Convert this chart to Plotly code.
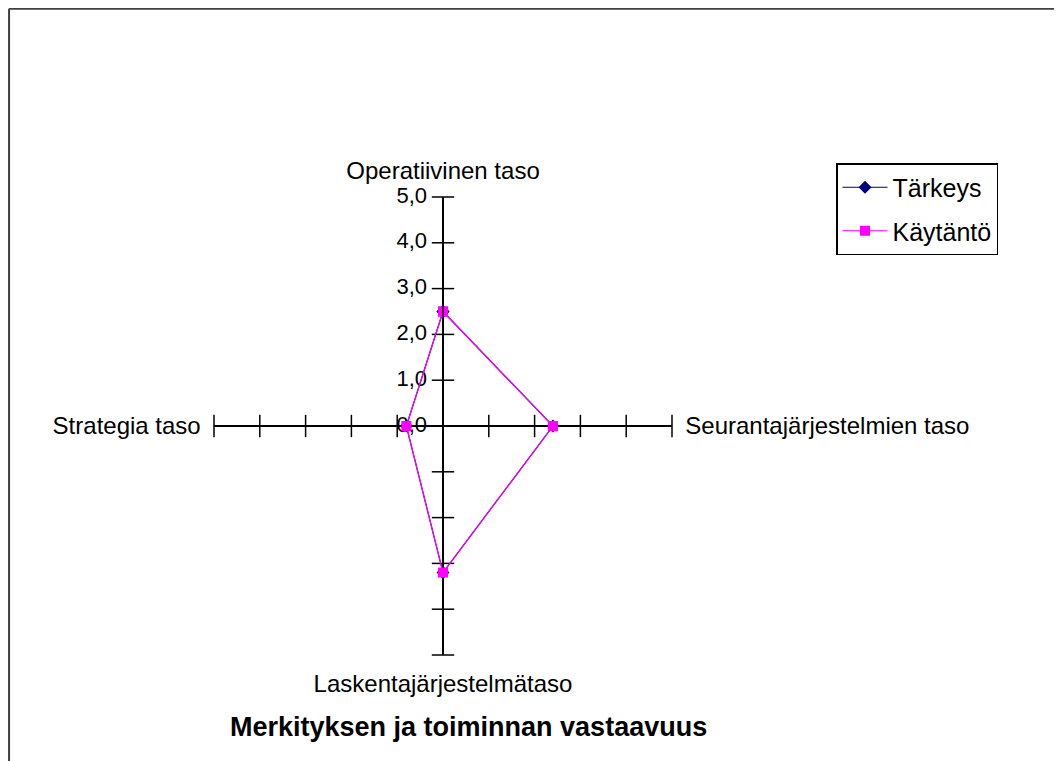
import plotly.graph_objects as go

categories = ["Operatiivinen taso", "Seurantajärjestelmien taso", "Laskentajärjestelmätaso", "Strategia taso"]
tarkeys = [2.5, 2.4, 3.2, 0.8]
kaytanto = [2.5, 2.4, 3.2, 0.8]
radial_ticks = [0, 1, 2, 3, 4, 5]
series_names = ["Tärkeys", "Käytäntö"]
title_text = "Merkityksen ja toiminnan vastaavuus"

FONT = "Liberation Sans, Arial, sans-serif"

def closed(vals):
    return list(vals) + [vals[0]]

# page body has 8px margin: work in figure coordinates
OFF = 8
W, H = 1062 - OFF, 761 - OFF
cx, cy, rad = 443 - OFF, 426 - OFF, 229

fig = go.Figure()

# tick marks crossing each spoke
tick_r, tick_t, tick_sym = [], [], []
for i, cat in enumerate(categories):
    for r in radial_ticks[1:]:
        tick_r.append(r)
        tick_t.append(cat)
        tick_sym.append("line-ew" if i % 2 == 0 else "line-ns")
fig.add_trace(go.Scatterpolar(
    r=tick_r, theta=tick_t, mode="markers",
    marker=dict(symbol=tick_sym, size=16, line=dict(color="black", width=1.5)),
    showlegend=False, hoverinfo="skip"))

# radial value labels along the top spoke
fig.add_trace(go.Scatterpolar(
    r=radial_ticks, theta=[categories[0]] * len(radial_ticks),
    mode="markers+text",
    text=[f"{v:.1f}".replace(".", ",") for v in radial_ticks],
    textposition="middle left",
    textfont=dict(family=FONT, size=22, color="black"),
    marker=dict(size=24, color="rgba(0,0,0,0)"),
    showlegend=False, hoverinfo="skip"))

fig.add_trace(go.Scatterpolar(
    r=closed(tarkeys), theta=closed(categories), mode="lines+markers",
    name=series_names[0], legendgroup="a",
    line=dict(color="#000080", width=1.2),
    marker=dict(symbol="diamond", size=10, color="#000080")))

fig.add_trace(go.Scatterpolar(
    r=closed(kaytanto), theta=closed(categories), mode="lines+markers",
    name=series_names[1], legendgroup="b",
    line=dict(color="#FF00FF", width=1.2),
    marker=dict(symbol="square", size=10, color="#FF00FF")))

fig.update_layout(
    width=W, height=H,
    margin=dict(l=0, r=0, t=0, b=0),
    paper_bgcolor="white",
    font=dict(family=FONT, size=24, color="black"),
    polar=dict(
        domain=dict(x=[(cx - rad) / W, (cx + rad) / W],
                    y=[(H - cy - rad) / H, (H - cy + rad) / H]),
        bgcolor="white",
        radialaxis=dict(
            range=[0, 5], tickvals=radial_ticks, showticklabels=False,
            angle=90, showgrid=False, showline=True,
            linecolor="black", linewidth=1.5, ticks="",
        ),
        angularaxis=dict(
            rotation=90, direction="clockwise", showline=False,
            showgrid=True, gridcolor="black", gridwidth=1.5,
            ticks="outside", ticklen=8, tickcolor="rgba(0,0,0,0)",
            tickfont=dict(family=FONT, size=24, color="black"),
        ),
    ),
    legend=dict(
        x=(836 - OFF) / W, y=1 - (163 - OFF) / H, xanchor="left", yanchor="top",
        bgcolor="white", bordercolor="black", borderwidth=1.5,
        font=dict(family=FONT, size=25, color="black"),
        tracegroupgap=8, itemwidth=45,
    ),
    annotations=[dict(
        text=f"<b>{title_text}</b>",
        x=(468 - OFF) / W, y=1 - (727 - OFF) / H, xref="paper", yref="paper",
        xanchor="center", yanchor="middle",
        showarrow=False, font=dict(family=FONT, size=27, color="black"),
    )],
    shapes=[
        dict(type="line", xref="paper", yref="paper", x0=0.001, x1=1, y0=0.999, y1=0.999,
             line=dict(color="#404040", width=2)),
        dict(type="line", xref="paper", yref="paper", x0=0.001, x1=0.001, y0=0, y1=0.999,
             line=dict(color="#404040", width=2)),
    ],
)

fig.write_html("out.html")
